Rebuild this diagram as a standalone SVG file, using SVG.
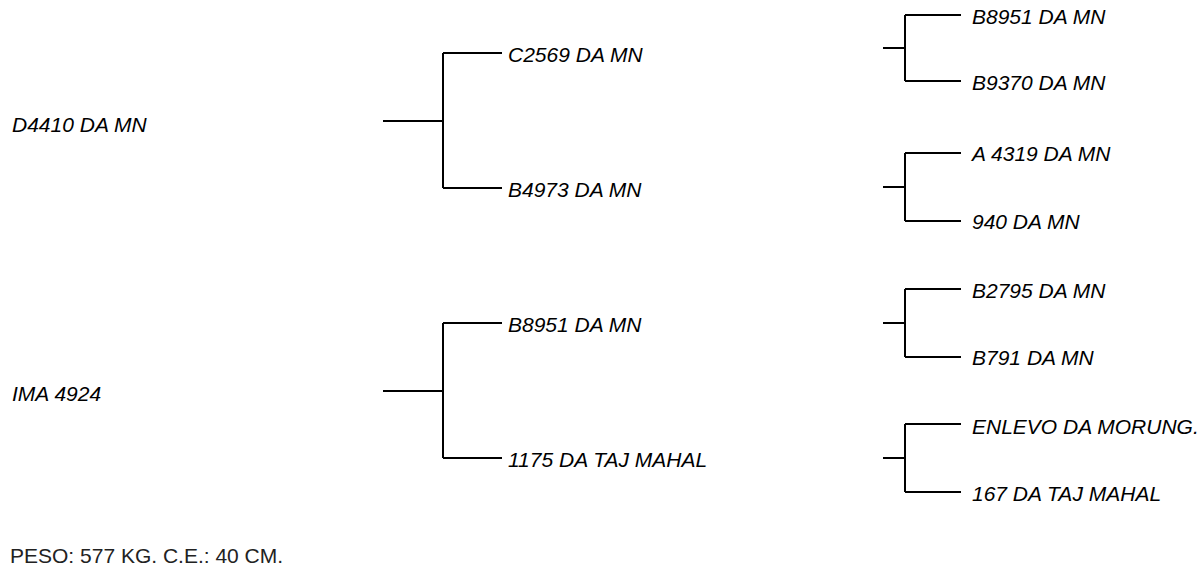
<svg xmlns="http://www.w3.org/2000/svg" width="1203" height="569" viewBox="0 0 1203 569">
<style>
.lbl{font-family:"Liberation Sans",Arial,sans-serif;font-style:italic;font-size:21px;fill:#000}
.note{font-family:"Liberation Sans",Arial,sans-serif;font-size:21px;fill:#222}
.ln{fill:none;stroke:#000;stroke-width:2}
</style>
<rect width="1203" height="569" fill="#fff"/>
<g id="connectors">
<path class="ln" d="M383 121H443M443 53V188M443 53H502M443 188H502"/>
<path class="ln" d="M383 391H443M443 323V458M443 323H502M443 458H502"/>
<path class="ln" d="M883 48H905M905 15V81M905 15H961M905 81H961"/>
<path class="ln" d="M883 187H905M905 153V221M905 153H961M905 221H961"/>
<path class="ln" d="M883 323H905M905 289V357M905 289H961M905 357H961"/>
<path class="ln" d="M883 458H905M905 424V492M905 424H961M905 492H961"/>
</g>
<g id="n-d4410"><text class="lbl" x="12" y="131.5">D4410 DA MN</text></g>
<g id="n-ima4924"><text class="lbl" x="12" y="400.5">IMA 4924</text></g>
<g id="n-c2569"><text class="lbl" x="508" y="61.5">C2569 DA MN</text></g>
<g id="n-b4973"><text class="lbl" x="508" y="196.5">B4973 DA MN</text></g>
<g id="n-b8951-mid"><text class="lbl" x="508" y="331.5">B8951 DA MN</text></g>
<g id="n-1175"><text class="lbl" x="508" y="466.5">1175 DA TAJ MAHAL</text></g>
<g id="n-b8951"><text class="lbl" x="972" y="24">B8951 DA MN</text></g>
<g id="n-b9370"><text class="lbl" x="972" y="90">B9370 DA MN</text></g>
<g id="n-a4319"><text class="lbl" x="972" y="161">A 4319 DA MN</text></g>
<g id="n-940"><text class="lbl" x="972" y="229">940 DA MN</text></g>
<g id="n-b2795"><text class="lbl" x="972" y="298">B2795 DA MN</text></g>
<g id="n-b791"><text class="lbl" x="972" y="365">B791 DA MN</text></g>
<g id="n-enlevo"><text class="lbl" x="972" y="434">ENLEVO DA MORUNG.</text></g>
<g id="n-167"><text class="lbl" x="972" y="501">167 DA TAJ MAHAL</text></g>
<g id="note"><text class="note" x="10" y="562.5">PESO: 577 KG. C.E.: 40 CM.</text></g>
</svg>
